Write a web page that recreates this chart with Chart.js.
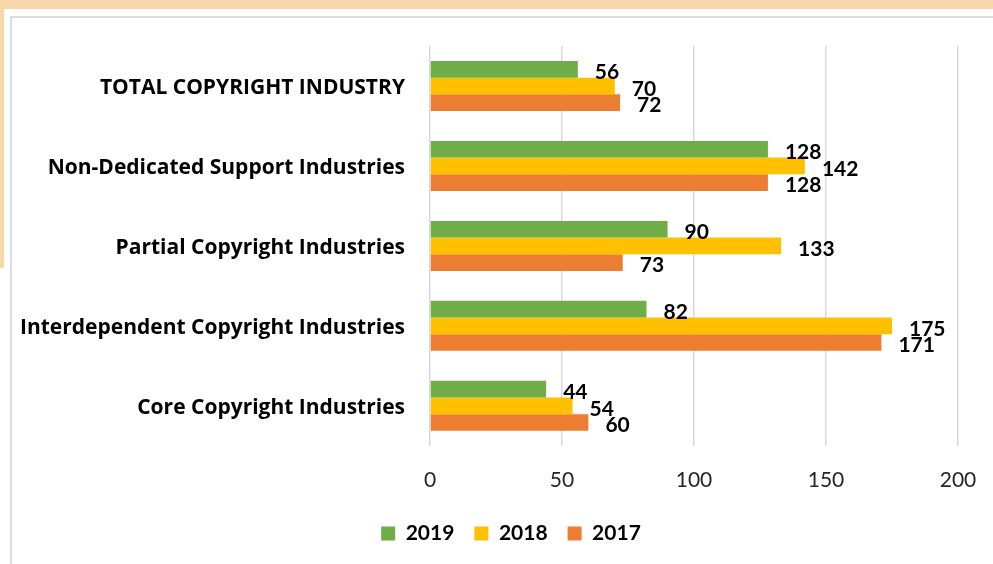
<!DOCTYPE html>
<html>
<head>
<meta charset="utf-8">
<script src="https://cdn.jsdelivr.net/npm/chart.js@4"></script>
<style>
  html, body { margin:0; padding:0; background:#ffffff; }
  #wrap { position:relative; width:993px; height:564px; overflow:hidden; background:#ffffff; }
  #peachTop { position:absolute; left:0; top:0; width:993px; height:9px; background:#f8d7a9; }
  #peachLeft { position:absolute; left:0; top:0; width:4px; height:268px; background:#f8d7a9; }
  #frameTop { position:absolute; left:10px; top:16px; width:983px; height:2px; background:#dcdcdc; }
  #frameLeft { position:absolute; left:10px; top:16px; width:2px; height:548px; background:#dcdcdc; }
  #c { position:absolute; left:0; top:0; }
</style>
</head>
<body>
<div id="wrap">
  <div id="peachTop"></div>
  <div id="peachLeft"></div>
  <div id="frameTop"></div>
  <div id="frameLeft"></div>
  <canvas id="c" width="993" height="564"></canvas>
</div>
<script>
const categories = [
  "TOTAL COPYRIGHT INDUSTRY",
  "Non-Dedicated Support Industries",
  "Partial Copyright Industries",
  "Interdependent Copyright Industries",
  "Core Copyright Industries"
];
const series2019 = [56, 128, 90, 82, 44];
const series2018 = [70, 142, 133, 175, 54];
const series2017 = [72, 128, 73, 171, 60];
const xTicks = [0, 50, 100, 150, 200];

const FONT = "Lato, 'Open Sans', sans-serif";
const LABEL_FONT = "'Open Sans', Lato, sans-serif";

const valueLabels = {
  id: 'valueLabels',
  afterDatasetsDraw(chart) {
    const ctx = chart.ctx;
    ctx.save();
    ctx.font = "bold 21px " + FONT;
    ctx.fillStyle = "#000000";
    ctx.textAlign = "left";
    ctx.textBaseline = "middle";
    chart.data.datasets.forEach((ds, di) => {
      const meta = chart.getDatasetMeta(di);
      meta.data.forEach((bar, i) => {
        ctx.fillText(String(ds.data[i]), bar.x + 17, bar.y + 3);
      });
    });
    ctx.restore();
  }
};

const legendShift = {
  id: 'legendShift',
  afterLayout(chart) {
    const lg = chart.legend;
    if (!lg) return;
    const dx = 32, dy = -10;
    lg.left += dx; lg.right += dx;
    lg.top += dy; lg.bottom += dy;
  }
};

new Chart(document.getElementById('c'), {
  type: 'bar',
  data: {
    labels: categories,
    datasets: [
      { label: '2019', data: series2019, backgroundColor: '#70ad47' },
      { label: '2018', data: series2018, backgroundColor: '#ffc000' },
      { label: '2017', data: series2017, backgroundColor: '#ed7d31' }
    ]
  },
  options: {
    indexAxis: 'y',
    responsive: false,
    animation: false,
    devicePixelRatio: 1,
    categoryPercentage: 0.625,
    barPercentage: 1.0,
    layout: { padding: { top: 46, right: 35, left: 0, bottom: 0 } },
    scales: {
      x: {
        min: 0, max: 200,
        afterBuildTicks(scale) { scale.ticks = xTicks.map(v => ({ value: v })); },
        afterFit(scale) {
          scale.height = scale.height - 2;
          scale.paddingRight = 0;
          scale.paddingLeft = 0;
        },
        grid: { color: '#d9d9d9', lineWidth: 1.5, drawTicks: false },
        border: { display: false },
        ticks: { color: '#262626', font: { family: FONT, size: 21 }, padding: 22 }
      },
      y: {
        afterFit(scale) { scale.width = 430; },
        grid: { display: false, drawTicks: false },
        border: { display: false },
        ticks: { color: '#000000', font: { family: LABEL_FONT, size: 21, weight: 'bold' }, padding: 25, labelOffset: 2 }
      }
    },
    plugins: {
      legend: {
        position: 'bottom',
        labels: {
          color: '#000000',
          font: { family: FONT, size: 21, weight: 'bold' },
          boxWidth: 14, boxHeight: 14, padding: 20
        }
      },
      tooltip: { enabled: false }
    }
  },
  plugins: [valueLabels, legendShift]
});
</script>
</body>
</html>
